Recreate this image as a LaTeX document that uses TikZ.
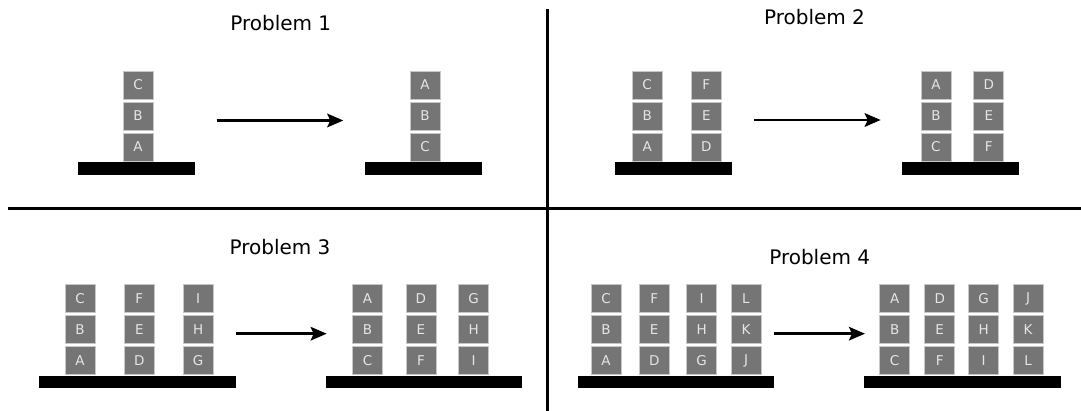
\documentclass[tikz,border=0pt]{standalone}
\usepackage{fontspec}
\setmainfont{DejaVu Sans}
\usetikzlibrary{arrows.meta}

\begin{document}
\begin{tikzpicture}[x=1pt, y=-1pt,
    block/.style={draw=black!22, line width=0.8pt, fill=black!54, text=black!10,
        minimum width=30pt, minimum height=28pt, inner sep=0pt,
        font=\fontsize{13.5}{13.5}\selectfont},
    table/.style={fill=black, minimum width=117pt, minimum height=12.6pt, inner sep=0pt},
    wide table/.style={table, minimum width=196.6pt},
    title/.style={anchor=base, font=\fontsize{20}{20}\selectfont},
    move/.style={-{Stealth[length=16pt, width=13.5pt, inset=3pt]}, line width=2.8pt},
    divider/.style={line width=3pt}]

        \useasboundingbox (0,0) rectangle (1081,411);

        % Block rows (top half, bottom half)
        \def\topA{147}
        \def\topB{116}
        \def\topC{85}
        \def\botA{360.5}
        \def\botB{329.5}
        \def\botC{298.5}

        % Dividers
        \draw[divider] (8,209) -- (1081,209);
        \draw[divider] (547.5,9) -- (547.5,411);

        % Problem 1
        \node[title] (t1) at (280.8,31) {Problem 1};
        \node[table] (s1) at (136.5,168.7) {};
        \node[table] (g1) at (423,168.7) {};
        \foreach \x/\a/\b/\c in {138/A/B/C} {
            \node[block] (s1-\a) at (\x,\topA) {\a};
            \node[block] (s1-\b) at (\x,\topB) {\b};
            \node[block] (s1-\c) at (\x,\topC) {\c};
        }
        \foreach \x/\a/\b/\c in {425/C/B/A} {
            \node[block] (g1-\a) at (\x,\topA) {\a};
            \node[block] (g1-\b) at (\x,\topB) {\b};
            \node[block] (g1-\c) at (\x,\topC) {\c};
        }
        \coordinate (m1s) at (216.7,120.5);
        \coordinate (m1e) at (343.3,120.5);
        \draw[move] (m1s) -- (m1e);

        % Problem 2
        \node[title] (t2) at (814.5,25) {Problem 2};
        \node[table] (s2) at (673.7,168.7) {};
        \node[table] (g2) at (960,168.7) {};
        \foreach \x/\a/\b/\c in {647.2/A/B/C, 706.3/D/E/F} {
            \node[block] (s2-\a) at (\x,\topA) {\a};
            \node[block] (s2-\b) at (\x,\topB) {\b};
            \node[block] (s2-\c) at (\x,\topC) {\c};
        }
        \foreach \x/\a/\b/\c in {935.9/C/B/A, 988.8/F/E/D} {
            \node[block] (g2-\a) at (\x,\topA) {\a};
            \node[block] (g2-\b) at (\x,\topB) {\b};
            \node[block] (g2-\c) at (\x,\topC) {\c};
        }
        \coordinate (m2s) at (754,120);
        \coordinate (m2e) at (880.7,120);
        \draw[move] (m2s) -- (m2e);

        % Problem 3
        \node[title] (t3) at (280,255) {Problem 3};
        \node[wide table] (s3) at (137.3,382) {};
        \node[wide table] (g3) at (424,382) {};
        \foreach \x/\a/\b/\c in {80/A/B/C, 139.3/D/E/F, 198.2/G/H/I} {
            \node[block] (s3-\a) at (\x,\botA) {\a};
            \node[block] (s3-\b) at (\x,\botB) {\b};
            \node[block] (s3-\c) at (\x,\botC) {\c};
        }
        \foreach \x/\a/\b/\c in {367.5/C/B/A, 420.9/F/E/D, 473.7/I/H/G} {
            \node[block] (g3-\a) at (\x,\botA) {\a};
            \node[block] (g3-\b) at (\x,\botB) {\b};
            \node[block] (g3-\c) at (\x,\botC) {\c};
        }
        \coordinate (m3s) at (236,333.7);
        \coordinate (m3e) at (326.7,333.7);
        \draw[move] (m3s) -- (m3e);

        % Problem 4
        \node[title] (t4) at (819.7,265) {Problem 4};
        \node[wide table] (s4) at (675.8,382) {};
        \node[wide table] (g4) at (962.7,382) {};
        \foreach \x/\a/\b/\c in {606/A/B/C, 654.2/D/E/F, 701.7/G/H/I, 746/J/K/L} {
            \node[block] (s4-\a) at (\x,\botA) {\a};
            \node[block] (s4-\b) at (\x,\botB) {\b};
            \node[block] (s4-\c) at (\x,\botC) {\c};
        }
        \foreach \x/\a/\b/\c in {894.7/C/B/A, 939.7/F/E/D, 983.7/I/H/G, 1028/L/K/J} {
            \node[block] (g4-\a) at (\x,\botA) {\a};
            \node[block] (g4-\b) at (\x,\botB) {\b};
            \node[block] (g4-\c) at (\x,\botC) {\c};
        }
        \coordinate (m4s) at (774.3,333.7);
        \coordinate (m4e) at (865,333.7);
        \draw[move] (m4s) -- (m4e);

    \end{tikzpicture}
\end{document}
